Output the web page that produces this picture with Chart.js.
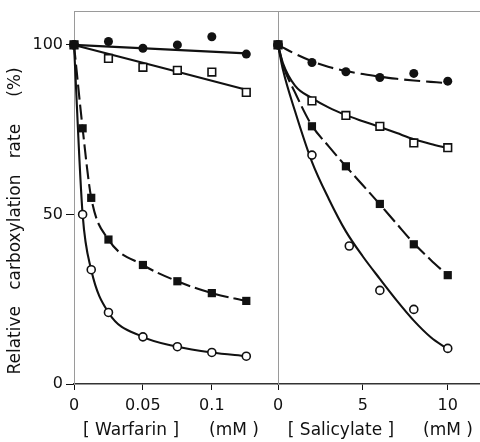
<!DOCTYPE html>
<html>
<head>
<meta charset="utf-8">
<script src="https://cdn.jsdelivr.net/npm/chart.js@4.4.1/dist/chart.umd.min.js"></script>
<style>
  html, body { margin: 0; padding: 0; background: #fff; }
  #wrap { position: relative; width: 480px; height: 442px; }
  #wrap canvas { position: absolute; left: 0; top: 0; }
</style>
</head>
<body>
<div id="wrap">
  <canvas id="warfarin" width="480" height="442"></canvas>
  <canvas id="salicylate" width="480" height="442"></canvas>
</div>
<script>
// ---- Warfarin panel (mM) ----
var warfarinX = [0, 0.025, 0.05, 0.075, 0.1, 0.125];
var warfarinFineX = [0, 0.00625, 0.0125, 0.025, 0.05, 0.075, 0.1, 0.125];
var warfarinFilledCircle = [100, 101, 99, 100, 102.4, 97.3];
var warfarinOpenSquare = [100, 96, 93.4, 92.5, 92, 86];
var warfarinFilledSquare = [100, 75.4, 54.9, 42.6, 35.1, 30.3, 26.8, 24.5];
var warfarinOpenCircle = [100, 50, 33.7, 21.1, 13.9, 11, 9.3, 8.2];
// straight fitted lines
var warfarinFitX = [0, 0.125];
var warfarinFitFilledCircle = [100, 97.5];
var warfarinFitOpenSquare = [100, 86.8];
var warfarinTicks = [0, 0.05, 0.1];
var warfarinTickLabels = ['0', '0.05', '0.1'];

// ---- Salicylate panel (mM) ----
var salicylateX = [0, 2, 4, 6, 8, 10];
var salicylateOpenCircleX = [0, 2, 4.2, 6, 8, 10];
var salicylateFilledCircle = [100, 94.8, 92.1, 90.4, 91.6, 89.3];
var salicylateOpenSquare = [100, 83.5, 79.2, 76, 71.1, 69.7];
var salicylateFilledSquare = [100, 76, 64.2, 53.1, 41.2, 32.1];
var salicylateOpenCircle = [100, 67.5, 40.7, 27.6, 22, 10.5];
// fitted curves
var salicylateFitX = [0, 0.3, 1, 2, 3, 4, 5, 6, 7, 8, 9, 10];
var salicylateFitFilledCircle = [100, 99.2, 97.4, 95.2, 93.5, 92.3, 91.4, 90.6, 90.0, 89.5, 89.1, 88.7];
var salicylateFitOpenSquare = [100, 94.5, 88, 84.3, 81.5, 79.3, 77.5, 75.8, 74, 72.2, 70.8, 69.6];
var salicylateFitFilledSquare = [100, 94, 86, 76.2, 70, 64.2, 58.6, 53, 47.2, 41.5, 36.6, 32];
var salicylateFitOpenCircle = [100, 92.5, 80.5, 65.5, 54.5, 45, 37.6, 31, 24.6, 18.7, 13.8, 10.3];
var salicylateTicks = [0, 5, 10];
var salicylateTickLabels = ['0', '5', '10'];

// ---- shared y axis ----
var rateTicks = [0, 50, 100];
var rateTickLabels = ['0', '50', '100'];

var INK = '#111';
var FRAME = '#9a9a9a';
var FONT = "'DejaVu Sans', sans-serif";

var pts = function (xs, ys) {
    return xs.map(function (x, i) { return { x: x, y: ys[i] }; });
};

// marker styles
var filledCircle = { pointStyle: 'circle', pointRadius: 4.5, pointBackgroundColor: INK, pointBorderColor: INK, pointBorderWidth: 0 };
var openCircle = { pointStyle: 'circle', pointRadius: 4, pointBackgroundColor: '#fff', pointBorderColor: INK, pointBorderWidth: 1.6 };
var filledSquare = { pointStyle: 'rect', pointRadius: 5.8, pointBackgroundColor: INK, pointBorderColor: INK, pointBorderWidth: 0 };
var openSquare = { pointStyle: 'rect', pointRadius: 5.4, pointBackgroundColor: '#fff', pointBorderColor: INK, pointBorderWidth: 1.6 };

var curve = function (data, dash, order) {
    return {
        data: data, showLine: true, pointRadius: 0, borderColor: INK, borderWidth: 2.1,
        borderDash: dash || [], cubicInterpolationMode: 'monotone', clip: false, order: order
    };
};
var markers = function (data, style, order) {
    return Object.assign({ data: data, showLine: false, clip: false, order: order }, style);
};

// axis helpers: force exact axis box sizes so both panels line up
var fixSize = function (w, h) {
    return function (s) {
        if (w !== null) s.width = w;
        if (h !== null) s.height = h;
        s.paddingTop = s.paddingBottom = s.paddingLeft = s.paddingRight = 0;
    };
};
var useTicks = function (values) {
    return function (s) { s.ticks = values.map(function (v) { return { value: v }; }); };
};

// top border of the frame
var frameTop = {
    id: 'frameTop',
    beforeDatasetsDraw: function (chart) {
        var a = chart.chartArea, ctx = chart.ctx;
        ctx.save();
        ctx.strokeStyle = FRAME;
        ctx.lineWidth = 1;
        ctx.beginPath();
        ctx.moveTo(a.left, a.top + 0.5);
        ctx.lineTo(a.right, a.top + 0.5);
        ctx.stroke();
        ctx.restore();
    }
};

// free-standing axis captions
var captions = function (items) {
    return {
        id: 'captions',
        afterDraw: function (chart) {
            var ctx = chart.ctx;
            ctx.save();
            ctx.fillStyle = INK;
            ctx.textAlign = 'center';
            ctx.textBaseline = 'middle';
            items.forEach(function (it) {
                ctx.save();
                ctx.font = (it.size || 17) + 'px ' + FONT;
                ctx.translate(it.x, it.y);
                if (it.vertical) ctx.rotate(-Math.PI / 2);
                ctx.fillText(it.text, 0, 0);
                ctx.restore();
            });
            ctx.restore();
        }
    };
};

var xAxis = function (max, ticks, labels) {
    return {
        type: 'linear', min: 0, max: max,
        afterFit: fixSize(null, 58),
        afterBuildTicks: useTicks(ticks),
        border: { display: true, color: '#333', width: 1.5 },
        grid: { drawOnChartArea: false, drawTicks: true, tickLength: 6, color: INK, lineWidth: 1 },
        ticks: {
            color: INK, padding: 6, font: { family: FONT, size: 16 }, maxRotation: 0,
            callback: function (v, i) { return labels[i]; }
        }
    };
};

var commonOptions = function (padding, scales) {
    return {
        responsive: false,
        animation: false,
        events: [],
        layout: { padding: padding, autoPadding: false },
        plugins: { legend: { display: false }, tooltip: { enabled: false } },
        scales: scales
    };
};

// left panel: warfarin, owns the y axis
new Chart(document.getElementById('warfarin'), {
    type: 'scatter',
    data: {
        datasets: [
            curve(pts(warfarinFitX, warfarinFitOpenSquare), [], 8),
            markers(pts(warfarinX, warfarinOpenSquare), openSquare, 7),
            Object.assign(curve(pts(warfarinFineX, warfarinFilledSquare), [15, 5], 6), filledSquare),
            Object.assign(curve(pts(warfarinFineX, warfarinOpenCircle), [], 5), openCircle),
            curve(pts(warfarinFitX, warfarinFitFilledCircle), [], 4),
            markers(pts(warfarinX, warfarinFilledCircle), filledCircle, 3)
        ]
    },
    options: commonOptions({ left: 0, top: 11, right: 202, bottom: 0 }, {
        x: xAxis(0.148, warfarinTicks, warfarinTickLabels),
        y: {
            type: 'linear', min: 0, max: 110,
            afterFit: fixSize(74, null),
            afterBuildTicks: useTicks(rateTicks),
            border: { display: true, color: FRAME, width: 1 },
            grid: { drawOnChartArea: false, drawTicks: true, tickLength: 8, color: INK, lineWidth: 1 },
            ticks: {
                color: INK, padding: 3, font: { family: FONT, size: 16 },
                callback: function (v, i) { return rateTickLabels[i]; }
            }
        }
    }),
    plugins: [frameTop, captions([
        { text: 'Relative   carboxylation   rate     (%)', x: 16, y: 221, vertical: true },
        { text: '[ Warfarin ]', x: 131, y: 431 },
        { text: '(mM )', x: 234, y: 431 }
    ])]
});

// right panel: salicylate, shares the y range
new Chart(document.getElementById('salicylate'), {
    type: 'scatter',
    data: {
        datasets: [
            curve(pts(salicylateFitX, salicylateFitOpenCircle), [], 9),
            curve(pts(salicylateFitX, salicylateFitFilledSquare), [17, 5], 8),
            curve(pts(salicylateFitX, salicylateFitOpenSquare), [], 7),
            curve(pts(salicylateFitX, salicylateFitFilledCircle), [16, 6], 6),
            markers(pts(salicylateOpenCircleX, salicylateOpenCircle), openCircle, 5),
            markers(pts(salicylateX, salicylateFilledSquare), filledSquare, 4),
            markers(pts(salicylateX, salicylateOpenSquare), openSquare, 3),
            markers(pts(salicylateX, salicylateFilledCircle), filledCircle, 2)
        ]
    },
    options: commonOptions({ left: 278, top: 11, right: 0, bottom: 0 }, {
        x: xAxis(11.9, salicylateTicks, salicylateTickLabels),
        y: {
            type: 'linear', min: 0, max: 110,
            afterFit: fixSize(0, null),
            border: { display: true, color: FRAME, width: 1 },
            grid: { display: false },
            ticks: { display: false }
        }
    }),
    plugins: [frameTop, captions([
        { text: '[ Salicylate ]', x: 341, y: 431 },
        { text: '(mM )', x: 448, y: 431 }
    ])]
});
</script>
</body>
</html>
